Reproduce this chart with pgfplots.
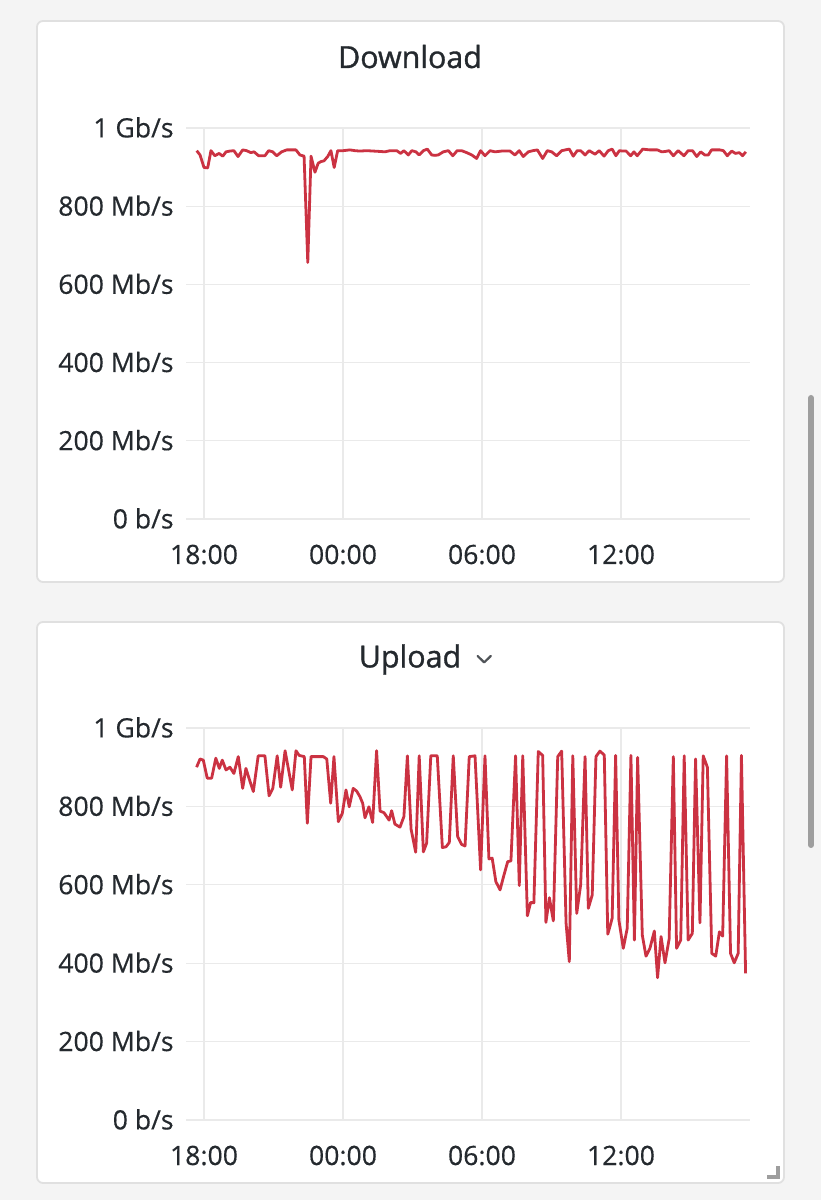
\documentclass[border=0pt]{standalone}
\usepackage{pgfplots}
\pgfplotsset{compat=1.18}
\usepackage{fontspec}
\setmainfont{Open Sans}
\newfontfamily\titlefont[FakeBold=1.1]{Open Sans}
\newfontfamily\tickfont[FakeBold=0.4]{Open Sans}
\definecolor{bgc}{RGB}{244,244,244}
\definecolor{cardb}{RGB}{224,224,224}
\definecolor{gridc}{RGB}{234,234,234}
\definecolor{txt}{RGB}{36,41,46}
\definecolor{linec}{RGB}{203,50,66}
\definecolor{scrollc}{RGB}{158,158,158}

\pgfplotstableread{
h v
-0.315 942
-0.17 931
0 899
0.16 898
0.30 942
0.47 929
0.65 935
0.81 928
0.95 939
1.12 941
1.29 942
1.47 927
1.67 944
1.84 942
2.02 937
2.16 939
2.36 929
2.50 929
2.63 929
2.79 942
2.97 939
3.14 929
3.35 939
3.57 944
3.76 944
3.97 944
4.14 931
4.32 928
4.48 656
4.62 928
4.79 887
4.93 910
5.05 914
5.18 916
5.34 927
5.48 942
5.62 899
5.77 942
6.01 942
6.30 944
6.52 942
6.73 941
7.02 942
7.31 941
7.60 940
7.81 939
8.03 942
8.32 942
8.49 935
8.63 942
8.82 931
8.97 942
9.15 939
9.29 931
9.47 942
9.64 946
9.83 931
9.97 930
10.11 931
10.33 939
10.55 942
10.74 929
10.93 942
11.12 942
11.34 937
11.56 931
11.77 922
11.94 942
12.13 929
12.35 942
12.56 939
12.85 941
13.04 941
13.21 941
13.42 931
13.61 942
13.78 927
14.00 939
14.20 942
14.39 944
14.62 922
14.82 942
15.01 939
15.22 929
15.44 942
15.60 944
15.77 946
15.94 928
16.11 942
16.26 942
16.45 931
16.63 942
16.88 933
17.06 942
17.27 928
17.45 942
17.62 946
17.78 929
17.93 942
18.07 941
18.22 941
18.42 929
18.56 939
18.70 929
18.94 946
19.08 945
19.25 944
19.41 944
19.57 944
19.76 939
19.92 940
20.08 942
20.26 929
20.47 942
20.72 929
20.90 942
21.09 942
21.27 927
21.44 939
21.62 931
21.77 931
21.91 944
22.10 944
22.27 944
22.42 942
22.59 929
22.78 941
22.94 935
23.11 937
23.25 929
23.39 939
}\download

\pgfplotstableread{
h v
-0.32 900
-0.17 921
-0.03 918
0.14 872
0.33 872
0.51 923
0.66 897
0.79 918
0.95 893
1.12 900
1.29 884
1.48 927
1.67 846
1.81 897
1.99 863
2.13 838
2.34 929
2.63 929
2.81 827
2.97 846
3.16 929
3.31 849
3.50 942
3.81 842
3.97 942
4.11 930
4.33 927
4.46 757
4.62 927
4.90 927
5.15 927
5.30 921
5.47 808
5.61 927
5.80 761
5.97 782
6.13 842
6.27 799
6.44 846
6.59 839
6.73 825
6.85 808
6.95 771
7.12 799
7.28 759
7.45 942
7.60 788
7.77 784
7.99 765
8.10 789
8.24 755
8.46 747
8.63 774
8.78 929
8.94 742
9.14 683
9.29 929
9.47 684
9.61 706
9.79 929
10.07 929
10.29 695
10.45 697
10.59 708
10.76 929
10.95 723
11.12 703
11.27 699
11.45 927
11.70 929
11.94 638
12.13 929
12.30 666
12.44 668
12.60 608
12.78 587
12.95 625
13.11 659
13.25 661
13.45 929
13.61 598
13.76 929
13.96 521
14.10 555
14.24 554
14.43 940
14.62 930
14.76 504
14.91 567
15.08 508
15.27 927
15.44 941
15.63 502
15.77 404
15.92 929
16.09 527
16.26 600
16.45 927
16.59 540
16.76 574
16.92 927
17.09 941
17.28 931
17.43 474
17.53 495
17.62 515
17.77 930
17.91 510
18.10 438
18.27 489
18.43 930
18.58 459
18.72 925
18.92 472
19.08 418
19.25 438
19.44 482
19.58 363
19.73 468
19.90 401
20.08 462
20.26 927
20.40 438
20.58 459
20.73 929
20.90 459
21.08 476
21.22 921
21.41 503
21.55 929
21.73 900
21.92 425
22.09 418
22.25 480
22.39 469
22.56 929
22.73 425
22.89 401
23.06 425
23.20 930
23.38 374
}\upload

\pgfplotsset{
  gstyle/.style={
    anchor=south west,
    scale only axis,
    width=282pt, height=196pt,
    xmin=-0.777, xmax=23.57,
    ymin=0, ymax=1000,
    axis line style={draw=none},
    major tick length=0pt,
    tick style={draw=none},
    grid=major,
    major grid style={draw=gridc, line width=0.6pt},
    xtick={0,6,12,18},
    xticklabels={18:00,00:00,06:00,12:00},
    ytick={0,200,400,600,800,1000},
    yticklabels={0 b/s,200 Mb/s,400 Mb/s,600 Mb/s,800 Mb/s,1 Gb/s},
    tick label style={font=\tickfont\fontsize{13.3}{16}\selectfont, text=txt, inner sep=0pt},
    yticklabel style={anchor=base east, xshift=-6pt, yshift=-4.7pt},
    xticklabel style={anchor=base, yshift=-22.5pt},
  },
  gline/.style={linec, line width=1.4pt, line join=round, no markers},
}

\begin{document}
\begin{tikzpicture}[x=1pt,y=1pt]
\fill[bgc] (0,0) rectangle (410.5,600);
\filldraw[fill=white, draw=cardb, line width=0.9pt, rounded corners=3pt] (18.5,309) rectangle (392,589.5);
\filldraw[fill=white, draw=cardb, line width=0.9pt, rounded corners=3pt] (18.5,8.5) rectangle (392,289);
% scrollbar
\draw[scrollc, line width=3pt, line cap=round] (405.5,401) -- (405.5,177.5);
% resize handle
\fill[scrollc] (388,10.5) rectangle (390,17);
\fill[scrollc] (383.5,10.5) rectangle (390,12.5);
% titles
\node[anchor=base, text=txt, font=\titlefont\fontsize{15.2}{18}\selectfont, inner sep=0pt] at (205,566) {Download};
\node[anchor=base, text=txt, font=\titlefont\fontsize{15.2}{18}\selectfont, inner sep=0pt] at (205,266.3) {Upload};
\draw[txt!80, line width=1.1pt, line cap=round, line join=round] (238.8,272) -- (242.1,268.8) -- (245.4,272);

\begin{axis}[gstyle, at={(93pt,340.5pt)}, height=195.5pt]
\addplot[gline] table[x=h,y=v] {\download};
\end{axis}

\begin{axis}[gstyle, at={(93pt,40pt)}]
\addplot[gline] table[x=h,y=v] {\upload};
\end{axis}
\end{tikzpicture}
\end{document}
